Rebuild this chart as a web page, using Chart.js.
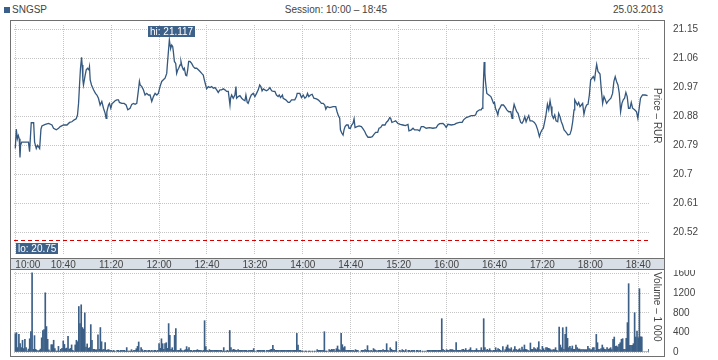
<!DOCTYPE html>
<html><head><meta charset="utf-8">
<script src="https://cdn.jsdelivr.net/npm/chart.js@4.4.1/dist/chart.umd.min.js"></script>
<style>
html,body{margin:0;padding:0;background:#fff;width:718px;height:360px;overflow:hidden;}
#wrap{position:relative;width:718px;height:360px;font-family:"Liberation Sans",Arial,sans-serif;font-size:10px;color:#444;}
.abs{position:absolute;}
#frame{left:10px;top:20px;width:653px;height:335px;border:1px solid #707070;}
#band{left:11px;top:258px;width:653px;height:10px;background:#d8dfe7;border-top:1px solid #707070;border-bottom:1px solid #707070;}
#sq{left:4px;top:7px;width:6px;height:6px;background:#3a5f8a;}
#ticker{left:12px;top:4px;}
#session{left:0;width:672px;top:4px;text-align:center;}
#date{right:55px;top:4px;}
canvas{position:absolute;left:0;}
#c1{top:0;}
#c2{top:270px;}
</style></head>
<body><div id="wrap">
<div class="abs" id="frame"></div>
<div class="abs" id="band"></div>
<div class="abs" id="sq"></div>
<div class="abs" id="ticker">SNGSP</div>
<div class="abs" id="session">Session: 10:00 – 18:45</div>
<div class="abs" id="date">25.03.2013</div>
<canvas id="c1" width="718" height="270"></canvas>
<canvas id="c2" width="718" height="90"></canvas>
</div>
<script>
// ---- data (time = minutes after 10:00 session open) ----
const TIME_TICKS = [0,40,80,120,160,200,240,280,320,360,400,440,480,520];
const TIME_LABELS = ['10:00','10:40','11:20','12:00','12:40','13:20','14:00','14:40','15:20','16:00','16:40','17:20','18:00','18:40'];
const PRICE_TICKS = [20.52,20.61,20.7,20.79,20.88,20.97,21.06,21.15];
const PRICE_LABELS = ['20.52','20.61','20.7','20.79','20.88','20.97','21.06','21.15'];
const VOLUME_TICKS = [0,400,800,1200,1600];
const VOLUME_LABELS = ['0','400','800','1200','1600'];

const PRICE_TIME = [
0,0.8,1.7,2.5,3.3,3.9,4.4,5.3,11,11.9,
13.3,15.3,16.1,17.5,18.6,20.3,21.4,22.2,25,27.8,
30.6,31.9,34.2,36.1,37.5,40.3,43.1,45.3,47.2,49.2,
50.8,51.9,52.8,53.6,54.4,55.3,55.8,56.4,56.9,58.1,
59.2,60.3,61.4,61.9,62.5,63.6,65.3,66.9,68.1,69.4,
70.8,72.2,73.6,75,75.8,76.4,77.8,78.6,79.7,80.8,
81.9,83.3,84.7,86.1,86.9,88.9,90.8,92.5,93.9,95.8,
97.2,98.6,100,101.4,102.8,103.6,104.2,105.6,106.9,108.3,
109.7,111.1,112.5,113.9,115.3,116.7,118.1,119.4,120.8,122.2,
123.6,125,126.4,126.9,127.8,128.6,129.2,129.7,130.6,131.4,
131.9,132.8,133.9,134.7,135.6,136.4,137.5,138.3,139.2,140.3,
141.1,142.2,143.1,143.9,144.7,145.8,147.2,148.6,150,151.4,
152.8,154.2,155.6,156.9,157.8,158.9,159.7,161.1,162.5,163.9,
165.3,166.7,168.1,169.4,170.8,172.2,173.6,175,176.4,177.8,
179.2,179.7,180.6,181.9,183.3,184.2,184.7,186.1,187.5,189,
190.3,191.7,192.5,193.6,194.4,195.8,197,198.6,200,201.4,
202.8,204,205,206,207,208.3,209.7,211,212.5,214,
215.3,216.7,218,219.4,220.3,221.4,223,223.6,225.8,227.8,
229,230.6,233.3,234.7,235.3,237.5,238.9,240.3,241.7,243,
243.9,245,246.4,247.8,249.2,251.4,252.8,254.2,255.5,257,
258.3,259.2,260.3,262.5,265.3,267.5,268.6,269.7,270.8,271.4,
272.5,273.6,274.4,275.3,276.4,277.8,278.6,279.7,280.8,281.9,
282.8,283.6,285.3,287,288.9,290.3,291.7,293,294.4,296.4,
298,299.4,300.8,302.5,303.6,305,306.4,308.6,309.7,311.1,
312.5,313.3,314.4,315.8,317.5,319.4,321.4,323.6,325.6,327.8,
328.6,330.6,332,333.3,336,337.5,338.9,340.8,343,345.8,
348.6,351.4,352.8,354.2,357,358.3,359.7,361.1,363.9,366.7,
368,370.8,373,374.2,376.4,378.6,380.6,382.5,384.2,385.3,
387.5,388.9,389.7,390.3,390.8,391.4,392,392.5,393.6,395.3,
397,398.1,399.2,400,400.8,402,402.8,403.6,404.7,405.8,
407.5,409.2,410.3,411.9,413.6,414.7,415.3,416.4,417.5,418.6,
419.7,420.8,421.9,423,424.2,425.3,426.4,427.5,428.6,429.7,
431.4,433.3,434.7,436.1,437.5,438.6,439.7,440.8,441.9,443,
444.2,445.3,446.4,447.2,448,449.2,450.3,451.4,452.8,453.6,
454.7,455.8,456.9,458.1,459.2,460.3,461.4,463,464.2,465.3,
466.4,467,468.1,469.2,470.3,471.4,472.5,473.6,474.7,475.8,
476.9,478.1,479.2,480.3,481.4,482.5,483.6,484.2,485.3,486.4,
488.1,489.2,490.3,491.4,492.5,493.6,494.7,495.8,497.2,498.6,
499.7,500.8,501.9,503.1,504.2,505.3,506.4,507.5,508.6,509.7,
510.8,511.9,513.1,514.2,515.3,517,518.6,519.7,520.8,521.9,
523.6,525.8,527.8
];
const PRICE = [
20.78,20.84,20.81,20.82,20.81,20.752,20.79,20.80,20.80,20.77,
20.86,20.86,20.80,20.78,20.79,20.78,20.84,20.85,20.855,20.858,
20.853,20.843,20.838,20.843,20.848,20.853,20.853,20.861,20.863,20.869,
20.872,20.884,20.92,20.977,21.029,21.063,21.039,20.993,20.977,21.003,
21.024,21.029,21.024,21.034,20.993,20.977,20.962,20.951,20.946,20.936,
20.915,20.926,20.905,20.889,20.874,20.894,20.915,20.92,20.905,20.92,
20.923,20.928,20.931,20.931,20.923,20.92,20.92,20.915,20.90,20.905,
20.917,20.92,20.917,20.92,20.962,20.988,20.977,20.972,20.962,20.946,
20.951,20.946,20.946,20.926,20.941,20.951,20.946,20.951,20.972,20.988,
20.993,20.998,21.013,21.039,21.081,21.117,21.101,21.091,21.101,21.096,
21.081,21.05,21.044,21.013,21.024,21.029,21.039,21.05,21.034,21.024,
21.029,21.008,21.006,21.024,21.05,21.05,21.044,21.034,21.029,21.029,
21.024,21.019,21.013,21.008,20.993,20.977,20.965,20.972,20.969,20.972,
20.967,20.969,20.962,20.954,20.962,20.962,20.965,20.962,20.957,20.957,
20.915,20.936,20.946,20.936,20.946,20.972,20.936,20.941,20.944,20.936,
20.931,20.928,20.946,20.923,20.92,20.936,20.946,20.951,20.941,20.951,
20.962,20.977,20.972,20.959,20.965,20.962,20.959,20.962,20.969,20.959,
20.957,20.957,20.946,20.941,20.946,20.938,20.946,20.936,20.931,20.923,
20.923,20.931,20.931,20.941,20.951,20.951,20.938,20.946,20.936,20.941,
20.951,20.941,20.946,20.948,20.936,20.934,20.931,20.926,20.92,20.92,
20.915,20.902,20.91,20.907,20.91,20.91,20.894,20.882,20.874,20.838,
20.828,20.822,20.838,20.848,20.853,20.853,20.843,20.843,20.853,20.858,
20.872,20.845,20.848,20.85,20.848,20.841,20.833,20.822,20.815,20.815,
20.817,20.824,20.83,20.83,20.843,20.845,20.853,20.853,20.861,20.866,
20.876,20.874,20.861,20.863,20.866,20.858,20.855,20.853,20.851,20.855,
20.835,20.838,20.843,20.838,20.838,20.835,20.848,20.848,20.843,20.845,
20.843,20.845,20.853,20.857,20.858,20.853,20.845,20.855,20.853,20.855,
20.858,20.861,20.861,20.869,20.876,20.879,20.882,20.882,20.884,20.894,
20.90,20.90,20.905,20.926,20.988,21.048,21.013,20.988,20.951,20.946,
20.941,20.931,20.92,20.923,20.905,20.894,20.884,20.90,20.907,20.915,
20.915,20.907,20.90,20.894,20.894,20.874,20.894,20.917,20.905,20.894,
20.889,20.874,20.861,20.858,20.866,20.879,20.863,20.874,20.882,20.866,
20.866,20.861,20.853,20.838,20.817,20.83,20.838,20.843,20.863,20.884,
20.917,20.90,20.928,20.91,20.884,20.874,20.884,20.866,20.863,20.889,
20.879,20.863,20.853,20.838,20.833,20.828,20.822,20.824,20.838,20.863,
20.90,20.931,20.923,20.915,20.923,20.91,20.915,20.92,20.886,20.905,
20.915,20.917,20.946,20.993,20.998,21.003,20.993,21.013,21.041,21.019,
21.011,20.962,20.92,20.941,20.931,20.92,20.926,20.931,20.936,20.951,
20.988,21.003,20.988,20.977,20.951,20.894,20.92,20.931,20.936,20.954,
20.941,20.905,20.905,20.923,20.905,20.90,20.894,20.874,20.905,20.936,
20.946,20.946,20.944
];
// volume per minute (thousands), minute 0 = 10:00
const VOLUME = [
375,395,90,360,170,90,240,70,260,90,
20,60,270,415,1620,55,335,55,35,20,
35,60,290,440,460,1210,520,260,45,20,
150,150,240,70,20,20,115,20,55,75,
225,155,70,80,320,55,75,145,35,20,
145,240,210,930,580,965,500,470,800,100,
165,75,90,560,240,55,55,45,45,350,
55,500,210,45,55,190,35,45,48,34,
34,20,34,20,0,34,34,20,34,34,
34,34,20,90,20,20,20,48,20,34,
34,68,115,205,20,90,48,20,34,34,
20,34,34,20,34,20,34,34,20,34,
170,75,270,170,55,170,190,75,580,340,
55,88,34,340,477,34,34,34,68,34,
20,34,48,110,48,90,34,34,20,34,
34,34,48,34,34,34,20,34,640,110,
34,20,48,34,34,34,34,34,34,34,
34,34,34,20,90,20,20,34,20,440,
90,34,55,48,34,34,48,34,34,34,
34,34,34,34,20,34,34,34,34,70,
20,0,34,34,34,34,34,34,34,0,
34,34,34,48,55,135,55,34,34,34,
34,34,34,34,34,34,34,34,34,34,
34,34,34,34,34,380,143,34,34,20,
20,0,20,20,0,20,20,0,20,0,
20,0,48,34,34,34,34,34,415,20,
20,0,48,34,55,48,55,20,68,123,
48,34,380,150,88,110,34,34,34,34,
34,34,34,20,48,34,34,0,0,34,
34,34,48,34,130,34,20,34,20,70,
48,34,20,34,34,34,34,48,34,34,
170,34,20,88,55,34,34,34,211,0,
0,34,20,48,34,20,48,0,34,34,
20,34,34,34,0,34,34,20,34,0,
20,0,20,0,34,34,34,34,34,34,
34,34,34,34,34,34,681,55,34,20,
48,34,34,48,48,48,34,34,190,34,
34,34,34,48,55,34,70,34,34,48,
88,34,34,34,34,68,34,34,34,88,
34,681,88,34,55,34,68,34,20,34,
34,88,34,68,55,34,20,110,20,48,
102,143,68,55,88,20,48,110,55,34,
48,68,34,102,48,143,55,48,34,20,
184,55,55,88,68,48,88,211,48,34,
116,68,34,88,88,75,68,48,34,48,
48,88,34,20,510,143,88,497,55,360,
510,280,88,116,68,123,55,55,143,88,
61,61,48,48,48,48,48,48,116,68,
48,48,88,88,34,360,190,55,48,68,
143,88,55,48,88,55,68,88,48,259,
306,116,123,102,157,190,259,272,55,55,
280,600,1396,136,136,136,170,804,306,429,
293,1294,313,306,0,0,0,0,0,55
];

// ---- style ----
const FONT = '"Liberation Sans",Arial,sans-serif';
const FONT_SIZE = 10;
const TEXT = '#444';
const GRID = '#c4c4c4';
const LINE_COLOR = '#34587f';
const BAR_COLOR = '#3b5f87';
const LABEL_BG = '#3d6189';
const X_MIN = -1.1, X_MAX = 529;
const PRICE_MIN = 20.45, PRICE_MAX = 21.163;
const VOL_MAX = 1635;
const LO_MARK_LEVEL = 20.498;

Chart.defaults.font.family = FONT;
Chart.defaults.font.size = FONT_SIZE;
Chart.defaults.color = TEXT;

const xTicks = TIME_TICKS.concat([X_MAX]);
function gridColor(ctx){ return (ctx.tick && ctx.tick.value === X_MAX) ? 'rgba(0,0,0,0)' : GRID; }
function fitY(s){ s.width = 69; s.paddingTop = 0; s.paddingBottom = 0; }

const markers = {
  id:'markers',
  afterDatasetsDraw(chart){
    const {ctx, chartArea:a, scales:{x, y}} = chart;
    ctx.save();
    ctx.font = FONT_SIZE + 'px ' + FONT;
    let hi = 0; for (let i=1;i<PRICE.length;i++) if (PRICE[i] > PRICE[hi]) hi = i;
    let lo = 0; for (let i=1;i<PRICE.length;i++) if (PRICE[i] < PRICE[lo]) lo = i;
    const hx = x.getPixelForValue(PRICE_TIME[hi]), hy = y.getPixelForValue(PRICE[hi]);
    const ht = 'hi: ' + PRICE[hi].toFixed(3);
    const hw = Math.round(ctx.measureText(ht).width) + 4;
    const bx = Math.round(hx + 2 - hw/2), by = Math.round(hy - 14);
    ctx.fillStyle = LABEL_BG; ctx.fillRect(bx, by, hw, 11);
    ctx.fillStyle = '#fff'; ctx.textAlign = 'left'; ctx.textBaseline = 'middle';
    ctx.fillText(ht, bx + 2, by + 6);
    const ly = Math.round(y.getPixelForValue(LO_MARK_LEVEL)) + 0.5;
    ctx.strokeStyle = '#d40000'; ctx.lineWidth = 1; ctx.setLineDash([4,3]);
    ctx.beginPath(); ctx.moveTo(a.left, ly); ctx.lineTo(a.right, ly); ctx.stroke();
    ctx.setLineDash([]);
    const lt = 'lo: ' + PRICE[lo].toFixed(2);
    const lw = Math.round(ctx.measureText(lt).width) + 4;
    const lx = Math.round(a.left + 2), lty = Math.round(ly + 2);
    ctx.fillStyle = LABEL_BG; ctx.fillRect(lx, lty, lw, 11);
    ctx.fillStyle = '#fff'; ctx.fillText(lt, lx + 2, lty + 6);
    ctx.fillStyle = TEXT; ctx.translate(a.right + 8, a.top + 63); ctx.rotate(Math.PI/2);
    ctx.textAlign = 'left'; ctx.fillText('Price – RUR', 0, 0);
    ctx.restore();
  }
};
const volTitle = {
  id:'volTitle',
  afterDatasetsDraw(chart){
    const {ctx, chartArea:a} = chart;
    ctx.save();
    ctx.font = FONT_SIZE + 'px ' + FONT; ctx.fillStyle = TEXT;
    ctx.translate(a.right + 8, a.top); ctx.rotate(Math.PI/2);
    ctx.textAlign = 'left'; ctx.textBaseline = 'middle';
    ctx.fillText('Volume – 1 000', 0, 0);
    ctx.restore();
  }
};

new Chart(document.getElementById('c1'), {
  type:'line',
  data:{datasets:[{data:PRICE_TIME.map((t,i)=>({x:t,y:PRICE[i]})), borderColor:LINE_COLOR, borderWidth:1.3, pointRadius:0, tension:0, fill:false}]},
  options:{
    responsive:false, animation:false, devicePixelRatio:1,
    layout:{padding:{left:14, top:25, right:0, bottom:0}, autoPadding:false},
    plugins:{legend:{display:false}, tooltip:{enabled:false}},
    scales:{
      x:{type:'linear', min:X_MIN, max:X_MAX,
         afterBuildTicks:s=>{s.ticks = xTicks.map(v=>({value:v}));},
         afterFit:s=>{s.height = 15; s.paddingLeft = 0; s.paddingRight = 0;},
         grid:{color:gridColor, drawTicks:false, lineWidth:1},
         border:{display:false, dash:[1,1]},
         ticks:{padding:4, align:'inner', maxRotation:0, autoSkip:false,
                callback:(v,i)=> (i < TIME_LABELS.length ? TIME_LABELS[i] : '')}},
      y:{position:'right', min:PRICE_MIN, max:PRICE_MAX,
         afterBuildTicks:s=>{s.ticks = PRICE_TICKS.map(v=>({value:v}));},
         afterFit:fitY,
         grid:{color:GRID, drawTicks:false, lineWidth:1},
         border:{display:false, dash:[1,1]},
         ticks:{padding:24, callback:(v,i)=>PRICE_LABELS[i]}}
    }
  },
  plugins:[markers]
});

new Chart(document.getElementById('c2'), {
  type:'bar',
  data:{datasets:[{data:VOLUME.map((v,i)=>({x:i,y:v})), backgroundColor:BAR_COLOR, barThickness:1, borderWidth:0}]},
  options:{
    responsive:false, animation:false, devicePixelRatio:1,
    layout:{padding:{left:14, top:2, right:0, bottom:8}, autoPadding:false},
    plugins:{legend:{display:false}, tooltip:{enabled:false}},
    scales:{
      x:{type:'linear', min:X_MIN, max:X_MAX, offset:false,
         afterBuildTicks:s=>{s.ticks = xTicks.map(v=>({value:v}));},
         afterFit:s=>{s.height = 0; s.paddingLeft = 0; s.paddingRight = 0;},
         grid:{color:gridColor, drawTicks:false, lineWidth:1, offset:false},
         border:{display:false, dash:[1,1]},
         ticks:{display:false}},
      y:{position:'right', min:0, max:VOL_MAX,
         afterBuildTicks:s=>{s.ticks = VOLUME_TICKS.map(v=>({value:v}));},
         afterFit:fitY,
         grid:{color:GRID, drawTicks:false, lineWidth:1},
         border:{display:false, dash:[1,1]},
         ticks:{padding:24, callback:(v,i)=>VOLUME_LABELS[i]}}
    }
  },
  plugins:[volTitle]
});
</script>
</body></html>
